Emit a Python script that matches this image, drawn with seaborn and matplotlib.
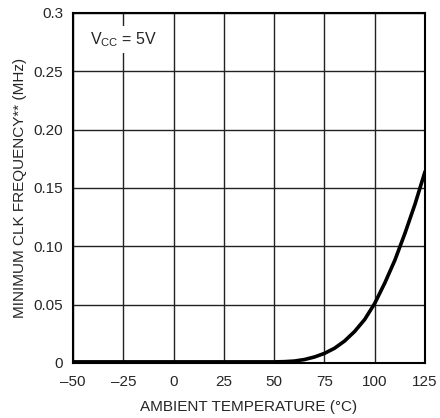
import numpy as np
import pandas as pd
import seaborn as sns
import matplotlib
matplotlib.use("Agg")
import matplotlib.pyplot as plt

# 曲线数据
temp_c = [-50, -25, 0, 25, 50, 55, 60, 65, 70, 75, 80, 85, 90, 95,
          100, 105, 110, 115, 120, 125]
freq_mhz = [0.0008, 0.0008, 0.0008, 0.0008, 0.0008, 0.0010, 0.0015, 0.0028, 0.0050, 0.0081,
            0.0125, 0.0187, 0.0269, 0.0372, 0.051, 0.0685, 0.088, 0.111, 0.136, 0.164]

x_ticks = [-50, -25, 0, 25, 50, 75, 100, 125]
x_labels = ["–50", "–25", "0", "25", "50", "75", "100", "125"]
y_ticks = [0, 0.05, 0.10, 0.15, 0.20, 0.25, 0.3]
y_labels = ["0", "0.05", "0.10", "0.15", "0.20", "0.25", "0.3"]

sns.set_style("white")
plt.rcParams['font.family'] = ['Liberation Sans', 'DejaVu Sans']
plt.rcParams['mathtext.default'] = 'regular'

df = pd.DataFrame({'temp': temp_c, 'freq': freq_mhz})

fig = plt.figure(figsize=(4.4, 4.18), dpi=100)
ax = fig.add_axes([0.166, 0.132, 0.800, 0.837])

sns.lineplot(data=df, x='temp', y='freq', color='black', linewidth=2.6, ax=ax, zorder=3)

ax.set_xlim(-50, 125)
ax.set_ylim(0, 0.3)
ax.set_xticks(x_ticks)
ax.set_xticklabels(x_labels, fontsize=11)
ax.set_yticks(y_ticks)
ax.set_yticklabels(y_labels, fontsize=11)
ax.tick_params(axis='x', length=0, pad=9)
ax.tick_params(axis='y', length=0, pad=7)
ax.grid(True, color='#222222', linewidth=1.0)
ax.set_axisbelow(True)

for s in ax.spines.values():
    s.set_color('black')
    s.set_linewidth(1.5)

ax.set_xlabel("AMBIENT TEMPERATURE (°C)", fontsize=11, labelpad=8)
ax.set_ylabel("MINIMUM CLK FREQUENCY** (MHz)", fontsize=11, labelpad=5)

ax.text(-25, 0.277, "V$_{CC}$ = 5V", fontsize=11.5, ha='center', va='center',
        bbox=dict(facecolor='white', edgecolor='none', pad=3), zorder=4)

fig.savefig("out.png", dpi=100)
